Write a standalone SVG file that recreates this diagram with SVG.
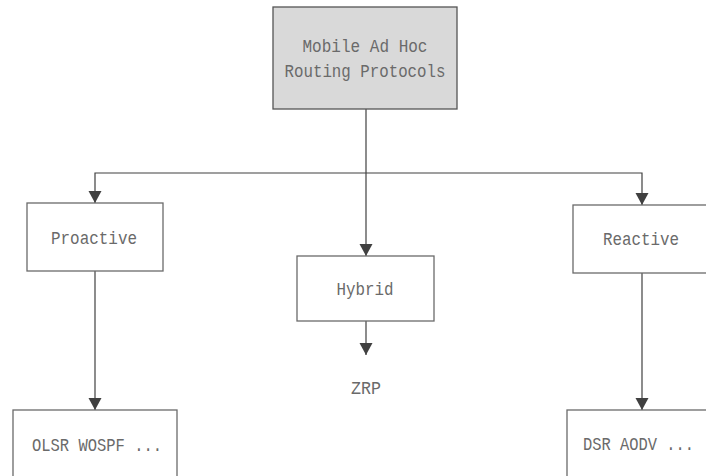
<svg xmlns="http://www.w3.org/2000/svg" width="706" height="476" viewBox="0 0 706 476">
<style>
.box{fill:#ffffff;stroke:#6a6a6a;stroke-width:1.3}
.root{fill:#d9d9d9;stroke:#555555;stroke-width:1.3}
.lbl{font-family:"Liberation Mono","DejaVu Sans Mono",monospace;font-size:18px;fill:#6a6a6a;text-anchor:middle}
.con{fill:none;stroke:#404040;stroke-width:1.2}
</style>
<defs>
<marker id="arr" markerUnits="userSpaceOnUse" markerWidth="14" markerHeight="14" viewBox="0 0 14 14" refX="12" refY="7" orient="auto">
<path d="M0 0.5 L12 7 L0 13.5 Z" fill="#404040"/>
</marker>
</defs>
<rect width="706" height="476" fill="#ffffff"/>
<g id="connectors">
<path class="con" d="M366 109 V256" marker-end="url(#arr)"/>
<path class="con" d="M366 173 H95 V203" marker-end="url(#arr)"/>
<path class="con" d="M366 173 H642 V205" marker-end="url(#arr)"/>
<path class="con" d="M95 271 V410" marker-end="url(#arr)"/>
<path class="con" d="M642 273 V410" marker-end="url(#arr)"/>
<path class="con" d="M366 321 V355" marker-end="url(#arr)"/>
</g>
<g id="root">
<rect class="root" x="273" y="7" width="184" height="102"/>
<text class="lbl" x="365" y="52" textLength="125" lengthAdjust="spacingAndGlyphs">Mobile Ad Hoc</text>
<text class="lbl" x="365" y="77" textLength="161" lengthAdjust="spacingAndGlyphs">Routing Protocols</text>
</g>
<g id="proactive">
<rect class="box" x="27" y="203" width="136" height="68"/>
<text class="lbl" x="94" y="244" textLength="86" lengthAdjust="spacingAndGlyphs">Proactive</text>
</g>
<g id="hybrid">
<rect class="box" x="297" y="256" width="137" height="65"/>
<text class="lbl" x="365" y="295" textLength="57" lengthAdjust="spacingAndGlyphs">Hybrid</text>
</g>
<g id="reactive">
<rect class="box" x="573" y="205" width="140" height="68"/>
<text class="lbl" x="641" y="245" textLength="76" lengthAdjust="spacingAndGlyphs">Reactive</text>
</g>
<g id="zrp">
<text class="lbl" x="366" y="394" textLength="30" lengthAdjust="spacingAndGlyphs">ZRP</text>
</g>
<g id="proactive-list">
<rect class="box" x="13" y="410" width="164" height="80"/>
<text class="lbl" x="97" y="451" textLength="130" lengthAdjust="spacingAndGlyphs">OLSR WOSPF ...</text>
</g>
<g id="reactive-list">
<rect class="box" x="567" y="410" width="160" height="80"/>
<text class="lbl" x="638.5" y="450" textLength="111" lengthAdjust="spacingAndGlyphs">DSR AODV ...</text>
</g>
</svg>
